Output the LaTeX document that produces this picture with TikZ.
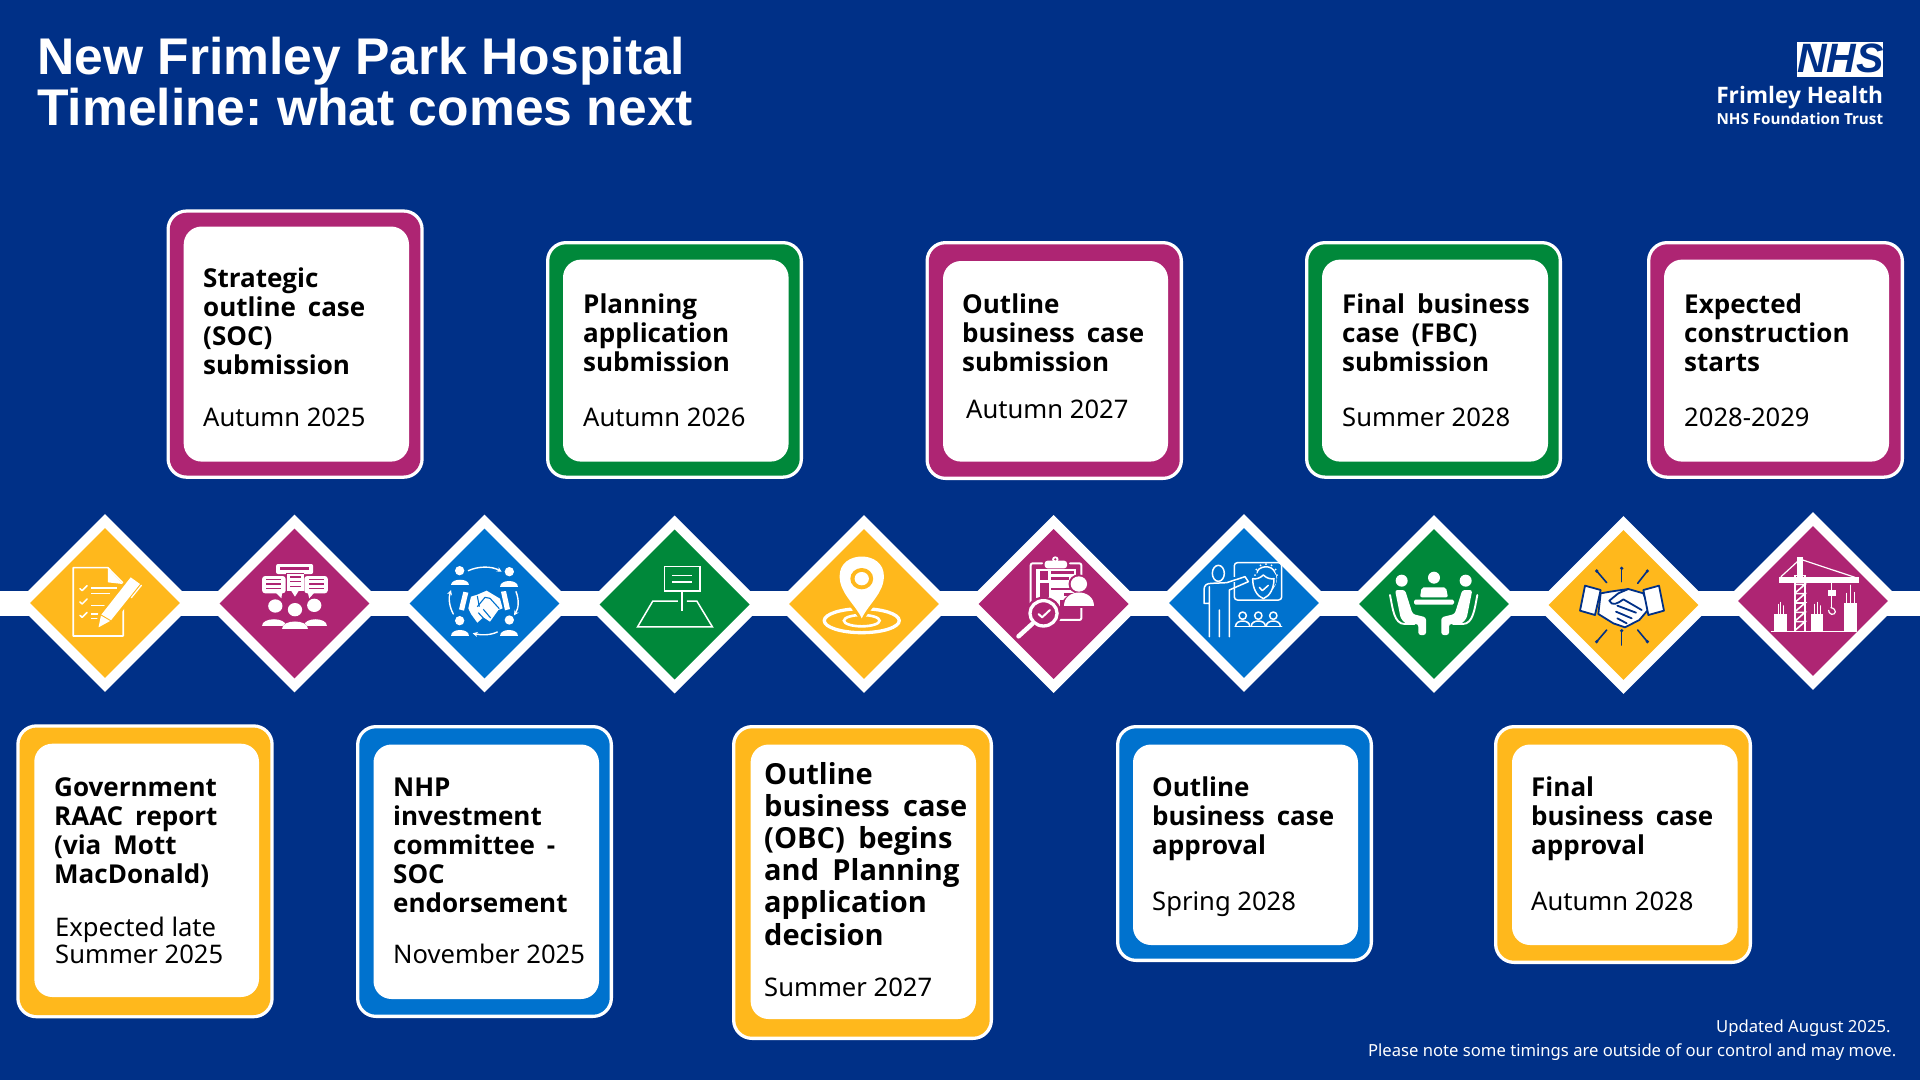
\documentclass[tikz,border=0pt]{standalone}
\usepackage{fontspec}
\usetikzlibrary{shapes.geometric,arrows.meta,calc}
\setmainfont{Noto Sans}
\newfontfamily\titlefont{Liberation Sans}
\newfontfamily\headfont{Open Sans}
\newfontfamily\logofont{Open Sans}
\frenchspacing
\definecolor{bgblue}{HTML}{003087}
\definecolor{nhsyellow}{HTML}{FFB81C}
\definecolor{nhspink}{HTML}{AE2573}
\definecolor{nhsgreen}{HTML}{00883A}
\definecolor{nhsblue}{HTML}{0072CE}
\tikzset{
  dmout/.style={diamond,fill=white,minimum width=178pt,minimum height=178pt,inner sep=0pt},
  dmin/.style={diamond,minimum width=150pt,minimum height=150pt,inner sep=0pt},
  lbl/.style={anchor=base west,inner sep=0pt,text=black},
  wl/.style={draw=white,line cap=round,line join=round,line width=#1},
  wl/.default=1.6pt,
}
\newcommand{\cardbox}[9]{%
  \fill[white,rounded corners=20pt] (#1,#3) rectangle (#2,#4);
  \fill[#9,rounded corners=17pt] (#1+3.3,#3+3.3) rectangle (#2-3.3,#4-3.3);
  \fill[white,rounded corners=18pt] (#5,#7) rectangle (#6,#8);
}
\newcommand{\blk}[6]{\node[lbl] (#1) at (#2,#3) {\fontsize{#4}{#5}\selectfont\begin{tabular}[t]{@{}l@{}}#6\end{tabular}};}
\newcommand{\hd}[1]{\headfont\bfseries\spaceskip=.46em #1}
\newcommand{\diam}[4]{\node[dmout] (#1) at (#2,#3) {}; \node[dmin,fill=#4] (#1in) at (#1) {};}
\newcommand{\dome}[4]{\fill[#4] (#1-#3,#2) .. controls (#1-#3,#2-#3*0.85) and (#1+#3,#2-#3*0.85) .. (#1+#3,#2) -- cycle;}
\begin{document}
\begin{tikzpicture}[x=1pt,y=-1pt]
\useasboundingbox (0,0) rectangle (1920,1080);
\fill[bgblue] (0,0) rectangle (1920,1080);
% title
\node[anchor=base west,inner sep=0pt,text=white] (title1) at (37,74) {\titlefont\bfseries\fontsize{51.6}{51}\selectfont New Frimley Park Hospital};
\node[anchor=base west,inner sep=0pt,text=white] (title2) at (37,125) {\titlefont\bfseries\fontsize{51.6}{51}\selectfont Timeline: what comes next};
% logo
\fill[white] (1797.3,42) rectangle (1883.3,76.7);
\node[anchor=base,inner sep=0pt,text=bgblue] (nhs) at (1840.3,72.5) {\titlefont\bfseries\itshape\fontsize{41}{41}\selectfont NHS};
\node[anchor=base east,inner sep=0pt,text=white] (trust1) at (1883.3,103) {\logofont\bfseries\fontsize{22.7}{23}\selectfont Frimley Health};
\node[anchor=base east,inner sep=0pt,text=white] (trust2) at (1883.3,124) {\logofont\bfseries\fontsize{15.2}{15.5}\selectfont NHS Foundation Trust};
% band
\fill[white] (0,591) rectangle (1920,616);
% diamonds
\diam{da}{105}{603}{nhsyellow}
\diam{db}{294.5}{603.5}{nhspink}
\diam{dc}{484.5}{603.5}{nhsblue}
\diam{dd}{674.6}{604.5}{nhsgreen}
\diam{de}{864}{604}{nhsyellow}
\diam{df}{1053.6}{604}{nhspink}
\diam{dg}{1244}{603}{nhsblue}
\diam{dh}{1434}{604}{nhsgreen}
\diam{di}{1623.5}{605}{nhsyellow}
\diam{dj}{1813}{601}{nhspink}
% top cards
\cardbox{166.5}{423.7}{209.4}{478.8}{183.7}{409}{226.5}{461.6}{nhspink}
\cardbox{546}{803}{241}{478.8}{563}{788.6}{259.6}{461.6}{nhsgreen}
\cardbox{925.5}{1183}{241}{480}{943}{1168}{261}{461.6}{nhspink}
\cardbox{1305}{1562}{241}{478.8}{1322}{1548}{259.6}{461.6}{nhsgreen}
\cardbox{1647}{1904}{241}{478.8}{1664}{1889}{259.6}{461.6}{nhspink}
% bottom cards
\cardbox{16.3}{273.7}{724.3}{1018.3}{34.3}{259}{743.7}{997}{nhsyellow}
\cardbox{356}{613}{725}{1018}{373.5}{599}{744.5}{999}{nhsblue}
\cardbox{732}{993}{725}{1040}{750.6}{976}{744.5}{1019}{nhsyellow}
\cardbox{1116}{1373}{725}{962}{1133}{1358}{744.5}{945}{nhsblue}
\cardbox{1494}{1752}{725}{964}{1512}{1737.6}{744.5}{945}{nhsyellow}
% card texts
\blk{t1}{203}{287}{26}{29}{\hd{Strategic}\\\hd{outline case}\\\hd{(SOC)}\\\hd{submission}}
\blk{t1d}{203}{426}{25.6}{27.5}{Autumn 2025}
\blk{t2}{583}{313.5}{26}{29}{\hd{Planning}\\\hd{application}\\\hd{submission}}
\blk{t2d}{583}{426}{25.6}{27.5}{Autumn 2026}
\blk{t3}{962}{313.5}{26}{29}{\hd{Outline}\\\hd{business case}\\\hd{submission}}
\blk{t3d}{966}{418}{25.6}{27.5}{Autumn 2027}
\blk{t4}{1342}{313.5}{26}{29}{\hd{Final business}\\\hd{case (FBC)}\\\hd{submission}}
\blk{t4d}{1342}{426}{25.6}{27.5}{Summer 2028}
\blk{t5}{1684}{313.5}{26}{29}{\hd{Expected}\\\hd{construction}\\\hd{starts}}
\blk{t5d}{1684}{426}{25.6}{27.5}{2028-2029}
\blk{b1}{54}{796}{26}{29}{\hd{Government}\\\hd{RAAC report}\\\hd{(via Mott}\\\hd{MacDonald)}}
\blk{b1d}{55}{936}{25.6}{27.5}{Expected late\\Summer 2025}
\blk{b2}{393}{796}{26}{29}{\hd{NHP}\\\hd{investment}\\\hd{committee -}\\\hd{SOC}\\\hd{endorsement}}
\blk{b2d}{393}{963}{25.6}{27.5}{November 2025}
\blk{b3}{764}{784}{29}{32.2}{\hd{Outline}\\\hd{business case}\\\hd{(OBC) begins}\\\hd{and Planning}\\\hd{application}\\\hd{decision}}
\blk{b3d}{764}{996}{25.6}{27.5}{Summer 2027}
\blk{b4}{1152}{796}{26}{29}{\hd{Outline}\\\hd{business case}\\\hd{approval}}
\blk{b4d}{1152}{910}{25.6}{27.5}{Spring 2028}
\blk{b5}{1531}{796}{26}{29}{\hd{Final}\\\hd{business case}\\\hd{approval}}
\blk{b5d}{1531}{910}{25.6}{27.5}{Autumn 2028}
% footer
\node[anchor=base east,inner sep=0pt,text=white] (foot1) at (1890.7,1032) {\fontsize{16.65}{16.7}\selectfont Updated August 2025.};
\node[anchor=base east,inner sep=0pt,text=white] (foot2) at (1896.5,1056) {\fontsize{16.65}{16.7}\selectfont Please note some timings are outside of our control and may move.};
% ---------- icon 1: checklist and pencil
\begin{scope}[shift={(0,500)},x=.3571pt,y=-.3333pt]
\draw[wl] (345,325) -- (345,408) -- (205,408) -- (205,203) -- (302,203) -- (345,250);
\fill[white] (302,205) -- (302,247) -- (343,252) -- cycle;
\foreach \yy in {266,306,346} \draw[wl=1.5pt] (224,\yy) -- (230,\yy+6) -- (244,\yy-9);
\foreach \a/\b/\c in {255/327/264,255/308/280,255/320/316,255/295/342,255/288/356} \draw[draw=white,line width=1.5pt] (\a,\c) -- (\b,\c);
\fill[nhsyellow] (268,392) -- (275,340) -- (365,222) -- (402,250) -- (318,368) -- cycle;
\fill[white] (276,382) -- (283,345) -- (366,232) -- (392,252) -- (310,362) -- cycle;
\draw[draw=nhsyellow,line width=.9pt] (283,345) -- (310,362);
\draw[wl=1.3pt] (368,293) -- (396,256);
\end{scope}
% ---------- icon 2: people talking
\begin{scope}[shift={(0,500)},x=.3571pt,y=-.3333pt]
\fill[white,rounded corners=2pt] (773,192) rectangle (877,222);
\fill[nhspink] (785,202) rectangle (865,210);
\fill[white,rounded corners=3pt] (734,228) rectangle (800,280);
\fill[white] (772,278) -- (788,295) -- (790,278) -- cycle;
\fill[white,rounded corners=3pt] (852,228) rectangle (918,280);
\fill[white] (862,278) -- (866,295) -- (880,278) -- cycle;
\fill[nhspink] (800,218) rectangle (852,276);
\fill[white] (804,222) rectangle (850,272);
\fill[white] (814,270) -- (826,290) -- (838,270) -- cycle;
\foreach \yy in {238,252,266} {\fill[nhspink] (745,\yy-2) rectangle (788,\yy+2); \fill[nhspink] (864,\yy-2) rectangle (906,\yy+2);}
\foreach \yy in {231,245,259} \fill[nhspink] (811,\yy-2) rectangle (843,\yy+2);
\fill[white] (771,318) circle (20);
\fill[white] (880,316) circle (20);
\dome{768}{378}{33}{white}
\dome{884}{378}{33}{white}
\fill[nhspink] (826,330) circle (25);
\dome{826}{392}{42}{nhspink}
\fill[white] (826,329) circle (20);
\dome{826}{388}{37}{white}
\end{scope}
% ---------- icon 3: people handshake
\begin{scope}[shift={(390,540)},x=.3333pt,y=-.3333pt]
\foreach \px/\hy/\by in {209/92/136,358/95/140,209/242/287,358/240/287} {
  \fill[white] (\px,\hy) circle (14);
  \dome{\px}{\by}{27}{white}
}
\draw[wl=1.4pt,-{Stealth[length=5pt,width=5pt]}] (235,92) .. controls (265,78) and (305,78) .. (335,95);
\draw[wl=1.4pt,-{Stealth[length=5pt,width=5pt]}] (378,155) .. controls (388,180) and (386,205) .. (372,226);
\draw[wl=1.4pt,-{Stealth[length=5pt,width=5pt]}] (322,276) .. controls (300,286) and (275,286) .. (248,280);
\draw[wl=1.4pt,-{Stealth[length=5pt,width=5pt]}] (190,222) .. controls (178,200) and (175,175) .. (183,150);
\fill[white] (220,155) -- (235,158) -- (222,212) -- (207,208) -- cycle;
\fill[white] (333,155) -- (348,153) -- (360,207) -- (345,211) -- cycle;
\fill[white] (243,170) -- (262,164) -- (290,152) -- (330,176) -- (338,205) -- (325,210) -- (300,245) -- (280,232) -- (262,248) -- (243,222) -- (235,205) -- cycle;
\draw[draw=nhsblue,line width=1.1pt] (262,168) -- (268,200);
\draw[draw=nhsblue,line width=1.1pt,line join=round] (262,200) -- (285,172) -- (300,175) -- (328,206);
\draw[draw=nhsblue,line width=1.1pt] (280,208) -- (302,234);
\draw[draw=nhsblue,line width=1.1pt] (265,218) -- (285,240);
\end{scope}
% ---------- icon 4: site plan sign
\begin{scope}[shift={(560,500)},x=.3571pt,y=-.3333pt]
\draw[draw=white,line width=1.5pt] (292,200) rectangle (392,273);
\draw[draw=white,line width=1.5pt] (315,226) -- (370,226) (315,246) -- (370,246);
\draw[draw=white,line width=1.5pt] (342,273) -- (342,333);
\draw[draw=white,line width=1.5pt,line join=miter] (330,303) -- (260,303) -- (217,381) -- (427,381) -- (383,303) -- (355,303);
\end{scope}
% ---------- icon 5: location pin
\begin{scope}[shift={(560,500)},x=.3571pt,y=-.3333pt]
\draw[draw=white,line width=3.3pt] (845,362) ellipse (105 and 36);
\draw[draw=white,line width=2.6pt] (845,362) ellipse (50 and 17);
\fill[nhsyellow] (845,365) -- (805,310) -- (885,310) -- cycle;
\fill[white] (845,355) .. controls (825,310) and (783,280) .. (783,228) .. controls (783,150) and (907,150) .. (907,228) .. controls (907,280) and (865,310) .. (845,355) -- cycle;
\fill[nhsyellow] (845,236) circle (32);
\fill[white] (845,236) circle (20);
\end{scope}
% ---------- icon 6: clipboard and magnifier
\begin{scope}[shift={(560,500)},x=.3571pt,y=-.3333pt]
\draw[wl=2pt,rounded corners=2pt] (1350,190) -- (1318,190) -- (1318,360) -- (1460,360) -- (1460,190) -- (1428,190);
\fill[white] (1334,206) -- (1445,206) -- (1445,345) -- (1334,345) -- cycle;
\fill[white,rounded corners=3pt] (1357,182) rectangle (1420,205);
\fill[white] (1387,178) circle (9);
\fill[nhspink] (1387,178) circle (3.5);
\fill[nhspink] (1344,212) rectangle (1367,240);
\fill[nhspink] (1374,212) rectangle (1440,222);
\fill[nhspink] (1374,232) rectangle (1425,240);
\fill[nhspink] (1344,250) rectangle (1370,290);
\fill[nhspink] (1376,263) rectangle (1430,270);
\fill[nhspink] (1410,280) rectangle (1440,288);
\fill[nhspink] (1400,300) rectangle (1440,352);
\fill[nhspink] (1400,318) rectangle (1450,352);
\fill[nhspink] (1453,252) circle (29);
\fill[nhspink] (1404,325) .. controls (1404,265) and (1500,265) .. (1500,325) -- cycle;
\fill[white] (1453,252) circle (23);
\fill[white] (1412,318) .. controls (1412,265) and (1494,265) .. (1494,318) -- cycle;
\fill[nhspink] (1354,340) circle (50);
\draw[draw=white,line width=3.3pt] (1354,340) circle (38);
\draw[wl=2pt] (1340,342) -- (1350,352) -- (1372,330);
\draw[wl=4.5pt] (1322,372) -- (1284,409);
\end{scope}
% ---------- icon 7: presenter
\begin{scope}[shift={(1180,540)},x=.3333pt,y=-.3333pt]
\draw[wl=1.5pt,rounded corners=3pt] (163,68) rectangle (305,180);
\draw[draw=nhsblue,line width=5pt] (160,118) -- (205,118);
\draw[wl=1.5pt] (115,100) ellipse (18 and 24);
\draw[wl=1.5pt] (88,290) -- (88,140) (72,190) -- (72,150) .. controls (72,135) and (80,130) .. (95,130) -- (140,128) -- (195,110) -- (205,125) -- (148,150) -- (148,290) (118,290) -- (118,210) (72,190) -- (88,190);
\draw[wl=1.5pt] (232,100) .. controls (228,78) and (280,70) .. (285,100) .. controls (295,115) and (285,135) .. (278,145);
\foreach \ang in {0,30,...,330} \fill[white] ($(258,105)+(\ang:33)$) circle (3);
\fill[nhsblue] (258,118) circle (32);
\draw[wl=1.5pt,fill=nhsblue] (250,105) .. controls (240,115) and (228,118) .. (218,116) .. controls (218,145) and (230,168) .. (250,176) .. controls (270,168) and (282,145) .. (282,116) .. controls (272,118) and (260,115) .. (250,105) -- cycle;
\draw[wl=1.5pt] (238,142) -- (247,152) -- (265,136);
\draw[wl=1.5pt] (165,259) -- (305,259);
\foreach \cx in {188,235,280} {
  \draw[wl=1.5pt] (\cx,227) circle (11);
  \draw[wl=1.5pt] (\cx-21,258) .. controls (\cx-21,238) and (\cx+21,238) .. (\cx+21,258);
}
\end{scope}
% ---------- icon 8: meeting
\begin{scope}[shift={(1370,540)},x=.3333pt,y=-.3333pt]
\fill[white] (95,122) circle (18);
\fill[white] (192,113) circle (18);
\fill[white] (287,122) circle (18);
\fill[white,rounded corners=2pt] (150,172) -- (155,142) -- (228,142) -- (234,172) -- cycle;
\fill[white,rounded corners=1.5pt] (132,179) rectangle (252,194);
\foreach \sgn/\mx in {1/0,-1/382} {
\begin{scope}[shift={(\mx,0)},x=\sgn*.3333pt]
\fill[white,rounded corners=2.5pt] (75,150) -- (105,150) -- (128,222) -- (168,232) -- (168,285) -- (145,285) -- (145,252) -- (108,252) -- (92,235) -- cycle;
\draw[wl=1.9pt] (60,165) .. controls (68,205) and (72,252) .. (104,252) -- (133,252);
\end{scope}}
\end{scope}
% ---------- icon 9: handshake
\begin{scope}[shift={(1560,540)},x=.3333pt,y=-.3333pt]
\draw[draw=bgblue,fill=white,line width=1.8pt,line join=round] (122,160) -- (150,155) -- (205,147) -- (250,160) -- (268,205) -- (238,240) -- (195,262) -- (160,250) -- (115,222) -- cycle;
\draw[draw=bgblue,fill=white,line width=1.8pt,line join=round] (75,137) -- (122,150) -- (105,225) -- (60,212) -- cycle;
\draw[draw=bgblue,fill=white,line width=1.8pt,line join=round] (250,150) -- (297,137) -- (312,212) -- (265,225) -- cycle;
\draw[draw=bgblue,line width=1.8pt,line join=round,line cap=round] (205,147) -- (175,160) -- (148,182) .. controls (155,200) and (175,190) .. (190,178) -- (245,210);
\draw[draw=bgblue,line width=1.8pt,line cap=round] (172,197) -- (228,218) (168,215) -- (215,235) (172,235) -- (200,250);
\foreach \aa/\bb/\cc/\dd in {110/93/140/128,185/85/185/125,262/93/233/130,110/305/140/270,185/272/185/315,262/305/233/270} {
\draw[draw=bgblue,line width=1.6pt,line cap=round] (\aa,\bb) -- (\cc,\dd);
\fill[bgblue] (\aa,\bb) circle (5.5);
}
\end{scope}
% ---------- icon 10: crane
\begin{scope}[shift={(1750,535)},x=.3333pt,y=-.3333pt]
\fill[white] (142,65) rectangle (158,125);
\fill[white] (88,127) rectangle (326,143);
\draw[wl=1.2pt] (158,75) -- (315,127) (93,125) -- (142,80);
\draw[draw=white,line width=1.5pt] (135,122) rectangle (165,290);
\foreach \yy in {148,176,204,232,260} \draw[draw=white,line width=1.6pt] (135,\yy) -- (165,\yy) -- (135,\yy+26);
\draw[wl=.9pt] (243,143) -- (243,218);
\fill[white] (233,165) rectangle (258,183);
\draw[wl=1.2pt] (243,218) .. controls (262,222) and (258,240) .. (245,238) .. controls (238,237) and (236,230) .. (236,226);
\fill[white] (72,238) rectangle (110,290);
\fill[white] (183,238) rectangle (220,290);
\fill[white] (282,205) rectangle (320,290);
\foreach \aa/\bb/\cc in {85/238/208,92/238/202,100/238/212,192/238/208,202/238/202,212/238/212,290/205/175,300/205/150,312/205/172} \draw[wl=.8pt] (\aa,\bb) -- (\aa,\cc);
\draw[draw=white,line width=1.5pt] (62,290) -- (322,290);
\end{scope}
\end{tikzpicture}
\end{document}
